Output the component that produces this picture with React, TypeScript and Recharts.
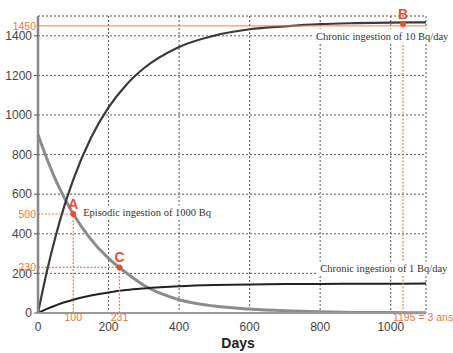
import React from "react";
import {
  LineChart,
  Line,
  XAxis,
  YAxis,
  CartesianGrid,
  ReferenceLine,
  ReferenceDot,
} from "recharts";

// jours et activité (Bq)
const days = [0, 25, 50, 75, 100, 150, 200, 250, 300, 400, 500, 600, 700, 800, 900, 1000, 1100];
const chronic10 = [0, 208, 388, 542, 674, 884, 1038, 1152, 1236, 1344, 1401, 1433, 1448, 1459, 1464, 1467, 1468];
const episodic = [900, 780, 672, 580, 500, 372, 276, 203, 140, 67, 35, 20, 11, 6, 3, 2, 1];
const chronic1 = [0, 21, 38, 54, 67, 88, 104, 116, 124, 135, 141, 144, 146, 147, 148, 148, 149];

const xTicks = [0, 200, 400, 600, 800, 1000];
const yTicks = [0, 200, 400, 600, 800, 1000, 1200, 1400];

// points remarquables
const pointA = { name: "A", day: 100, value: 500 };
const pointC = { name: "C", day: 231, value: 230 };
const pointB = { name: "B", day: 1035, value: 1460 };
const plateau = 1450;
const threeYears = "1195 = 3 ans";

const seriesLabels = [
  { text: "Chronic ingestion of 10 Bq/day", day: 788, value: 1400 },
  { text: "Episodic ingestion of 1000 Bq", day: 128, value: 508 },
  { text: "Chronic ingestion of 1 Bq/day", day: 800, value: 225 },
];

const data = days.map((d, i) => ({
  day: d,
  chronic10: chronic10[i],
  episodic: episodic[i],
  chronic1: chronic1[i],
}));

const ORANGE = "#e8502c";
const ORANGE_LINE = "#f07a52";
const ORANGE_TEXT = "#f07448";
const SANS = "Liberation Sans, Arial, sans-serif";
const SERIF = "Liberation Serif, Times New Roman, serif";

const SeriesLabel = (props: any) => {
  const { viewBox, value } = props;
  const x = viewBox.x;
  const y = viewBox.y;
  const w = value.length * 4.6;
  return (
    <g>
      <rect x={x - 2} y={y - 7} width={w + 4} height={14} fill="#fff" />
      <text x={x} y={y} dy={4} fontFamily={SERIF} fontSize={10.5} fill="#333">
        {value}
      </text>
    </g>
  );
};

const orangeLabel = {
  fill: ORANGE_TEXT,
  fontSize: 10.5,
  fontFamily: SANS,
};

const letterLabel = (v: string) => ({
  value: v,
  position: "top" as const,
  offset: 2,
  fill: ORANGE,
  fontSize: 14,
  fontWeight: "bold",
  fontFamily: SANS,
});

export default function App() {
  return (
    <div style={{ position: "absolute", left: 0, top: 0, background: "#fff" }}>
      <LineChart
        width={453}
        height={353}
        data={data}
        margin={{ top: 16, right: 27, bottom: 0, left: 0 }}
      >
        <CartesianGrid stroke="#555" strokeDasharray="2 2" />
        <XAxis
          dataKey="day"
          type="number"
          domain={[0, 1100]}
          ticks={xTicks}
          height={40}
          tickSize={0}
          tickMargin={9}
          tickLine={false}
          axisLine={{ stroke: "#999", strokeWidth: 2 }}
          tick={{ fill: "#444", fontSize: 12, fontFamily: SANS }}
          label={{
            value: "Days",
            position: "insideBottom",
            offset: 5,
            dx: 6,
            fill: "#222",
            fontSize: 14,
            fontWeight: "bold",
            fontFamily: SANS,
          }}
        />
        <YAxis
          type="number"
          domain={[0, 1500]}
          ticks={yTicks}
          width={38}
          tickSize={4}
          tickMargin={2}
          tickLine={{ stroke: "#555" }}
          axisLine={{ stroke: "#888", strokeWidth: 2.5 }}
          tick={{ fill: "#444", fontSize: 12, fontFamily: SANS }}
        />
        {seriesLabels.map((s) => (
          <ReferenceDot
            key={s.text}
            x={s.day}
            y={s.value}
            r={0}
            fill="none"
            stroke="none"
            label={<SeriesLabel value={s.text} />}
          />
        ))}
        <Line
          type="monotone"
          dataKey="episodic"
          stroke="#8c8c8c"
          strokeWidth={3}
          dot={false}
          isAnimationActive={false}
        />
        <Line
          type="monotone"
          dataKey="chronic10"
          stroke="#3a3a3a"
          strokeWidth={2.2}
          dot={false}
          isAnimationActive={false}
        />
        <Line
          type="monotone"
          dataKey="chronic1"
          stroke="#222"
          strokeWidth={2}
          dot={false}
          isAnimationActive={false}
        />
        <ReferenceLine
          y={plateau}
          stroke={ORANGE_LINE}
          strokeWidth={1}
          label={{ value: String(plateau), position: "left", offset: 2, ...orangeLabel }}
        />
        <ReferenceLine
          segment={[
            { x: pointB.day, y: 0 },
            { x: pointB.day, y: pointB.value },
          ]}
          stroke={ORANGE_LINE}
          strokeWidth={1.2}
          strokeDasharray="2 1.5"
          label={{ value: threeYears, position: "bottom", offset: 1, dx: 20, ...orangeLabel }}
        />
        {[pointA, pointC].map((p) => (
          <ReferenceLine
            key={p.name + "h"}
            segment={[
              { x: 0, y: p.value },
              { x: p.day, y: p.value },
            ]}
            stroke={ORANGE_LINE}
            strokeWidth={1.2}
            strokeDasharray="2 1.5"
            label={{ value: String(p.value), position: "left", offset: 2, ...orangeLabel }}
          />
        ))}
        {[pointA, pointC].map((p) => (
          <ReferenceLine
            key={p.name + "v"}
            segment={[
              { x: p.day, y: 0 },
              { x: p.day, y: p.value },
            ]}
            stroke={ORANGE_LINE}
            strokeWidth={1.2}
            strokeDasharray="2 1.5"
            label={{ value: String(p.day), position: "bottom", offset: 1, ...orangeLabel }}
          />
        ))}
        {[pointA, pointC, pointB].map((p) => (
          <ReferenceDot
            key={p.name}
            x={p.day}
            y={p.value}
            r={3}
            fill={ORANGE}
            stroke="none"
            label={letterLabel(p.name)}
          />
        ))}
      </LineChart>
    </div>
  );
}
